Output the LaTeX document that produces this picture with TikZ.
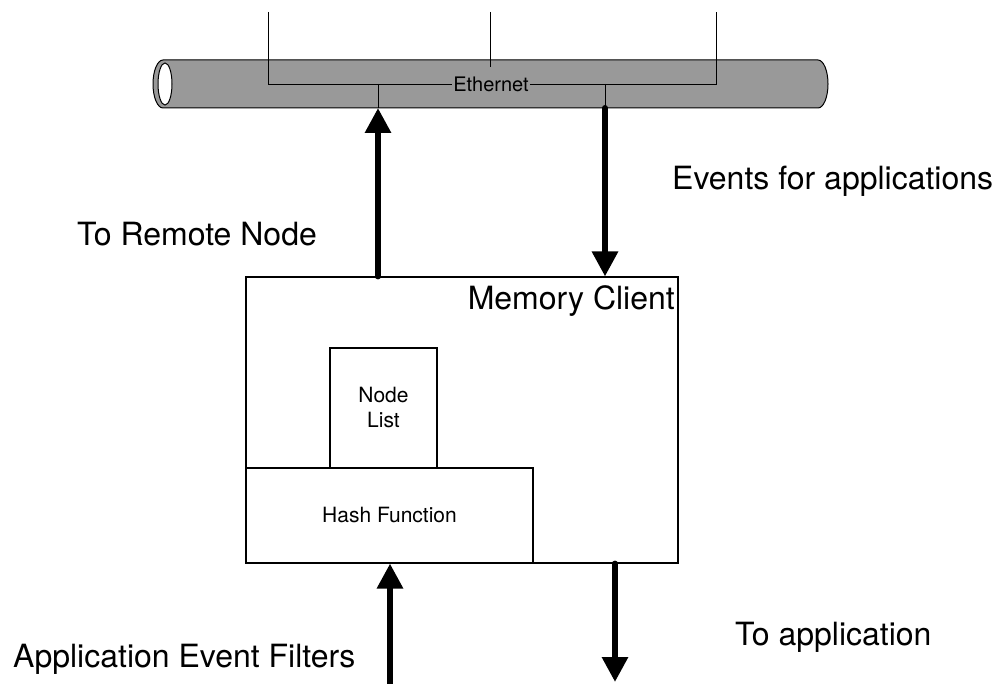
\documentclass[tikz,border=0pt]{standalone}
\usepackage{fontspec}
\setmainfont{TeX Gyre Heros}
\usetikzlibrary{arrows.meta}
\begin{document}
\begin{tikzpicture}[x=1pt,y=-1pt,
  wire/.style={line width=0.9pt},
  boxnode/.style={draw,line width=1.1pt,inner sep=0pt,align=center,font=\fontsize{21}{25}\selectfont},
  flow/.style={line width=6pt,line cap=round,-{Triangle[width=25pt,length=25pt]}},
  biglabel/.style={font=\fontsize{32}{38}\selectfont,inner sep=0pt,anchor=base west},
  tubefill/.style={fill=black!40,draw,line width=1pt},
]
\useasboundingbox (0,0) rectangle (998,684);

% Ethernet cable
\draw[tubefill] (163,60) -- (818,60)
  arc[start angle=90,end angle=-90,x radius=10pt,y radius=24pt]
  -- (163,108)
  arc[start angle=270,end angle=90,x radius=10pt,y radius=24pt] -- cycle;
\draw[fill=white,line width=1pt] (165,84) ellipse[x radius=7pt,y radius=21pt];

% station taps on the cable
\coordinate (s1) at (268,12);
\coordinate (s2) at (490,12);
\coordinate (s3) at (716,12);
\coordinate (b1) at (268,84);
\coordinate (b2) at (490,67);
\coordinate (b3) at (716,84);
\node[font=\fontsize{20}{24}\selectfont,inner sep=1pt,anchor=base] (eth) at (491,92) {Ethernet};
\draw[wire] (s1) -- (b1) -- (b1 -| eth.west);
\draw[wire] (b3 -| eth.east) -- (b3) -- (s3);
\draw[wire] (s2) -- (b2);
\coordinate (tx) at (378,84);
\coordinate (txb) at (378,108);
\coordinate (rx) at (605,84);
\coordinate (rxb) at (605,108);
\draw[wire] (tx) -- (txb);
\draw[wire] (rx) -- (rxb);

% memory client
\node[boxnode,minimum width=432pt,minimum height=286pt] (mc) at (462,420) {};
\node[font=\fontsize{32}{38}\selectfont,inner sep=0pt,anchor=base east] (mct) at (675,310) {Memory Client};
\node[boxnode,minimum width=107pt,minimum height=120pt] (nl) at (383.5,408) {Node\\List};
\node[boxnode,minimum width=287pt,minimum height=95pt] (hf) at (389.5,515.5) {Hash Function};

% data flows
\draw[flow] (mc.north -| tx) -- (txb);
\draw[flow] (rxb) -- (mc.north -| rx);
\coordinate (inB) at (390,684);
\coordinate (outB) at (615,682);
\draw[flow] (inB) -- (mc.south -| inB);
\draw[flow] (mc.south -| outB) -- (outB);

% labels
\node[biglabel] (lrem) at (77,246) {To Remote Node};
\node[biglabel] (lev) at (672,190) {Events for applications};
\node[biglabel] (lapp) at (735,645) {To application};
\node[biglabel] (lflt) at (13,667) {Application Event Filters};
\end{tikzpicture}
\end{document}
